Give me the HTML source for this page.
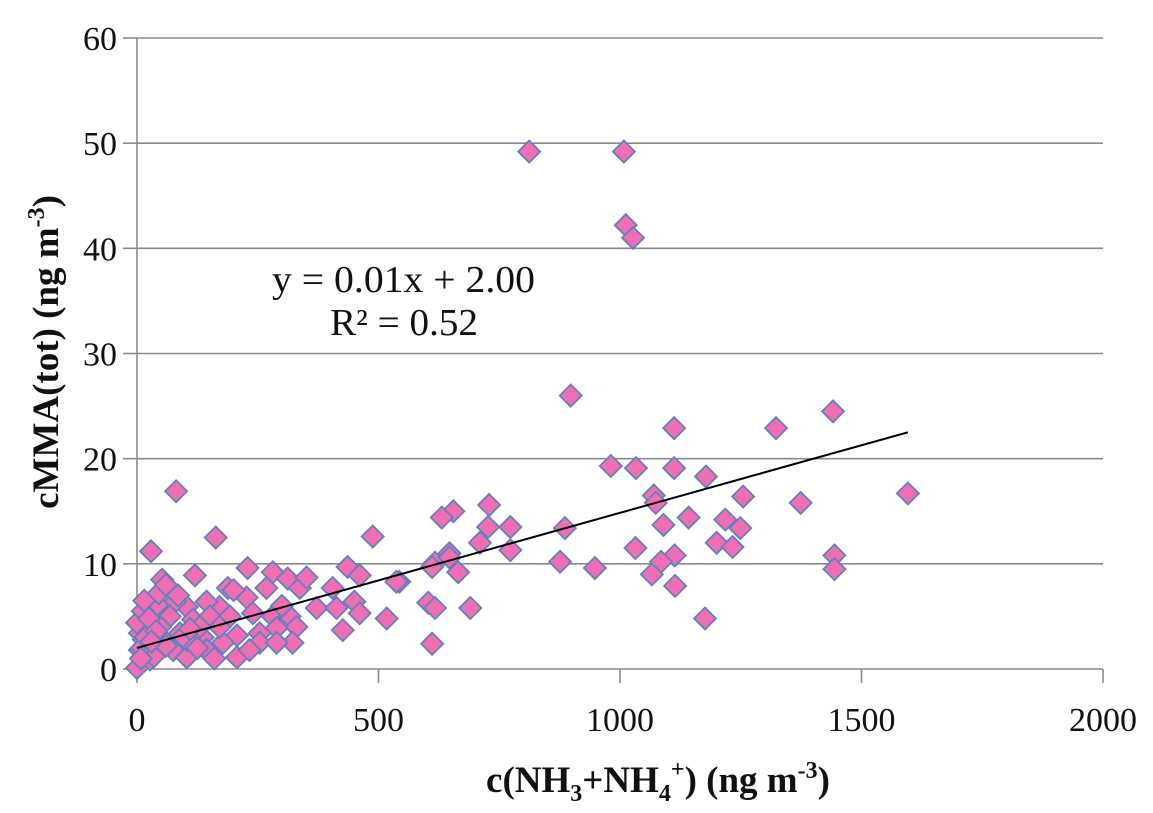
<!DOCTYPE html>
<html><head><meta charset="utf-8"><style>
html,body{margin:0;padding:0;background:#fff;}
svg{display:block;font-family:"Liberation Serif",serif;}
</style></head><body>
<svg id="chart" width="1153" height="813" viewBox="0 0 1153 813">
<g id="grid"></g>
<g id="axes"></g>
<g id="points"></g>
<g id="trend"></g>
<text x="272" y="292" font-size="38" textLength="263" lengthAdjust="spacingAndGlyphs" fill="#111">y = 0.01x + 2.00</text>
<text x="330" y="335" font-size="38" textLength="148" lengthAdjust="spacingAndGlyphs" fill="#111">R² = 0.52</text>
<text transform="translate(58,352) rotate(-90)" text-anchor="middle" font-size="37" font-weight="bold" fill="#111">cMMA(tot) (ng m<tspan font-size="24" dy="-14">-3</tspan><tspan dy="14">)</tspan></text>
<text x="658" y="792" text-anchor="middle" font-size="37" font-weight="bold" fill="#111">c(NH<tspan font-size="24" dy="9">3</tspan><tspan dy="-9">+NH</tspan><tspan font-size="24" dy="9">4</tspan><tspan font-size="24" dy="-24">+</tspan><tspan dy="15">) (ng m</tspan><tspan font-size="24" dy="-14">-3</tspan><tspan dy="14">)</tspan></text>
</svg>
<script>
const xTicks=[0,500,1000,1500,2000];
const yTicks=[0,10,20,30,40,50,60];
const xVals=[812,1008,1012,1027,898,1112,1323,1441,1596,981,1033,1112,1178,1070,1074,1255,1374,1142,1090,1218,1249,1200,1233,1032,1113,1085,1066,1114,1176,1444,1444,886,876,948,729,655,631,727,773,710,773,647,617,665,543,603,617,690,611,81,163,29,488,611,647,120,52,229,281,312,337,436,461,537,405,372,413,517,426,450,461,188,227,268,171,144,103,79,42,23,68,116,151,192,240,281,316,330,289,254,207,178,136,89,54,33,75,103,207,254,322,289,6,6,0,21,27,0,14,171,130,48,103,144,233,351,10,18,35,12,25,40,60,8,15,30,45,95,110,125,160,200,300,60,85];
const yVals=[49.2,49.2,42.2,41.0,26.0,22.9,22.9,24.5,16.7,19.3,19.1,19.1,18.3,16.5,15.8,16.4,15.8,14.4,13.7,14.2,13.4,12.0,11.6,11.5,10.8,10.2,9.0,7.9,4.8,10.8,9.5,13.4,10.2,9.6,15.6,15.0,14.4,13.5,13.5,12.0,11.3,11.0,10.1,9.2,8.3,6.3,5.8,5.8,2.4,16.9,12.5,11.2,12.6,9.7,10.6,8.9,8.5,9.6,9.2,8.6,7.7,9.7,8.9,8.3,7.7,5.8,5.8,4.8,3.7,6.4,5.3,7.7,6.8,7.7,5.9,6.4,5.9,6.4,6.1,4.5,5.0,4.7,5.0,5.0,5.3,5.0,5.0,4.0,3.9,3.4,3.2,2.5,3.0,3.4,2.8,1.5,1.8,1.1,1.1,2.5,2.5,2.5,3.4,1.8,0.1,5.0,0.9,4.4,2.8,4.0,4.0,4.0,2.8,1.8,1.8,8.7,2.0,3.0,1.2,5.5,4.8,3.6,2.2,1.0,6.5,2.6,7.2,3.1,3.8,2.0,1.0,7.5,6.0,8.0,7.0];
const trendSlope=[0.01285];
const trendIntercept=[2.0];
const trendRange=[0,1596];

const X0=137,X1=1103,Y0=669,Y1=38;
const sx=v=>X0+(v-0)/(2000-0)*(X1-X0);
const sy=v=>Y0-(v-0)/(60-0)*(Y0-Y1);
const NS="http://www.w3.org/2000/svg";
function mk(tag,attrs,parent){const e=document.createElementNS(NS,tag);for(const k in attrs)e.setAttribute(k,attrs[k]);parent.appendChild(e);return e;}
const grid=document.getElementById('grid'),axes=document.getElementById('axes'),pts=document.getElementById('points'),tr=document.getElementById('trend');
yTicks.forEach(t=>{
  if(t>0){const l=mk('line',{x1:X0,x2:X1,y1:sy(t),y2:sy(t),stroke:'#8a8a8a','stroke-width':1.6},grid);
  
  }
  const tk=mk('line',{x1:X0-14,x2:X0,y1:sy(t),y2:sy(t),stroke:'#8a8a8a','stroke-width':1.6},axes);
  
  
  const tx=mk('text',{x:X0-20,y:sy(t)+12,'text-anchor':'end','font-size':34,fill:'#111'},axes);
  tx.textContent=t;
  
  
});
xTicks.forEach(t=>{
  const tk=mk('line',{x1:sx(t),x2:sx(t),y1:Y0,y2:Y0+14,stroke:'#8a8a8a','stroke-width':1.6},axes);
  
  
  const tx=mk('text',{x:sx(t),y:Y0+62,'text-anchor':'middle','font-size':34,fill:'#111'},axes);
  tx.textContent=t;
  
  
});
const ya=mk('line',{x1:X0,x2:X0,y1:Y1,y2:Y0,stroke:'#8a8a8a','stroke-width':1.6},axes);


const xa=mk('line',{x1:X0,x2:X1,y1:Y0,y2:Y0,stroke:'#8a8a8a','stroke-width':1.6},axes);


const r=11;
xVals.forEach((v,i)=>{
  const cx=sx(v),cy=sy(yVals[i]);
  const p=mk('polygon',{points:`${cx},${cy-r} ${cx+r},${cy} ${cx},${cy+r} ${cx-r},${cy}`,fill:'#f26db2',stroke:'#5d82c0','stroke-width':1.8},pts);
  
  
});
const tl=mk('line',{x1:sx(trendRange[0]),y1:sy(trendIntercept[0]+trendSlope[0]*trendRange[0]),x2:sx(trendRange[1]),y2:sy(trendIntercept[0]+trendSlope[0]*trendRange[1]),stroke:'#000','stroke-width':2},tr);


</script>
</body></html>
